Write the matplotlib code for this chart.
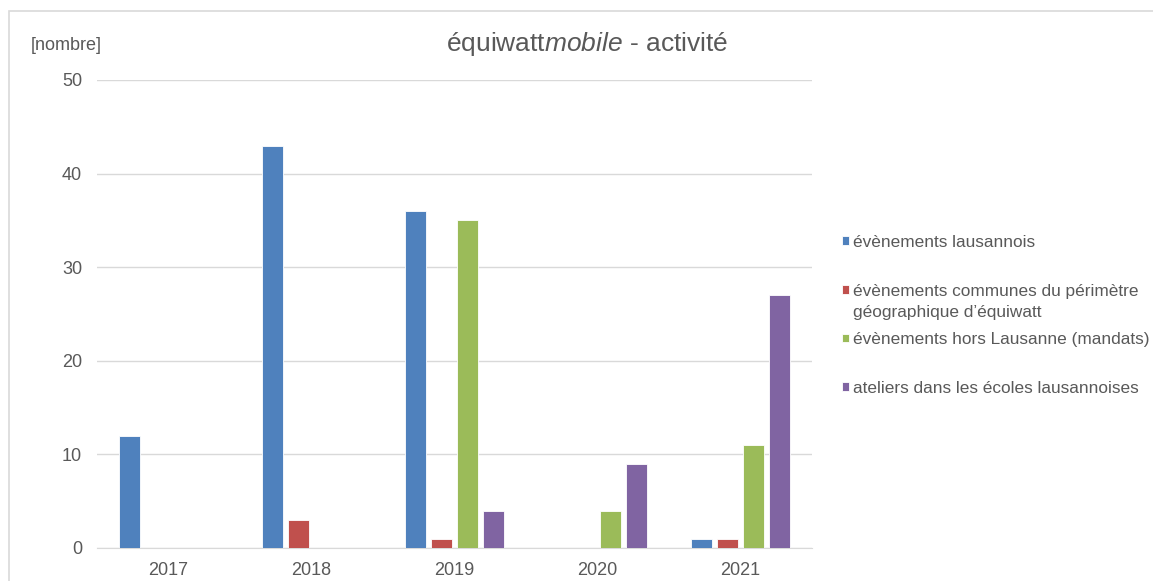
import numpy as np
import matplotlib.pyplot as plt
from matplotlib.patches import Rectangle

plt.rcParams['font.family'] = ['Liberation Sans', 'DejaVu Sans']
plt.rcParams['mathtext.fontset'] = 'custom'
plt.rcParams['mathtext.rm'] = 'Liberation Sans'
plt.rcParams['mathtext.it'] = 'Liberation Sans:italic'

years = ["2017", "2018", "2019", "2020", "2021"]
lausannois = [12, 43, 36, 0, 1]
communes = [0, 3, 1, 0, 1]
hors_lausanne = [0, 0, 35, 4, 11]
ateliers = [0, 0, 4, 9, 27]

labels = [
    "évènements lausannois",
    "évènements communes du périmètre",
    "évènements hors Lausanne (mandats)",
    "ateliers dans les écoles lausannoises",
]
label2_cont = "géographique d’équiwatt"
colors = ["#4F81BD", "#C0504D", "#9BBB59", "#8064A2"]
values = [lausannois, communes, hors_lausanne, ateliers]

txt = "#595959"
grid = "#D9D9D9"

fig = plt.figure(figsize=(11.53, 5.81), dpi=100)
ax = fig.add_axes([97/1153, 1 - 548/581, (812-97)/1153, (548-80)/581])

# outer chart frame
fig.patches.append(Rectangle((9/1153, -0.05), 1.1, 1 - 11/581 + 0.05,
                             transform=fig.transFigure, fill=False,
                             edgecolor=grid, linewidth=1.2))

x = np.arange(len(years))
step = 0.18
width = 0.148
for i, (label, vals, col) in enumerate(zip(labels, values, colors)):
    ax.bar(x + (i - 1.5) * step, vals, width, color=col, label=label,
           edgecolor="white", linewidth=0.6, zorder=3)

ax.set_xlim(-0.5, 4.5)
ax.set_ylim(0, 50)
ax.set_yticks(range(0, 51, 10))
ax.set_xticks(x)
ax.set_xticklabels(years)
ax.yaxis.grid(True, color=grid, linewidth=1, zorder=0)
for s in ["top", "right", "left"]:
    ax.spines[s].set_visible(False)
ax.spines["bottom"].set_color(grid)
ax.tick_params(length=0, colors=txt, labelsize=13)
ax.tick_params(axis="y", pad=10.8)
ax.tick_params(axis="x", pad=10)

fig.text(31/1153, 1 - 45/581, "[nombre]", color=txt, fontsize=13, va="center")
fig.text(587/1153, 1 - 44/581, r"équiwatt$\mathit{mobile}$ - activité",
         color=txt, fontsize=19, ha="center", va="center")

leg = fig.legend(loc="upper left", bbox_to_anchor=(842/1153, 1 - 235/581),
                 frameon=False, fontsize=12.4, labelcolor=txt,
                 handlelength=0.42, handleheight=0.42, handletextpad=0.2,
                 labelspacing=1.95, borderpad=0, borderaxespad=0)

# second line of the red entry, hanging below its first line
fig.canvas.draw()
bb = leg.get_texts()[1].get_window_extent()
fig.text(bb.x0 / fig.bbox.width, (bb.y0 - 21) / fig.bbox.height, label2_cont,
         color=txt, fontsize=12.4, va="bottom")

fig.savefig("out.png", dpi=100)
